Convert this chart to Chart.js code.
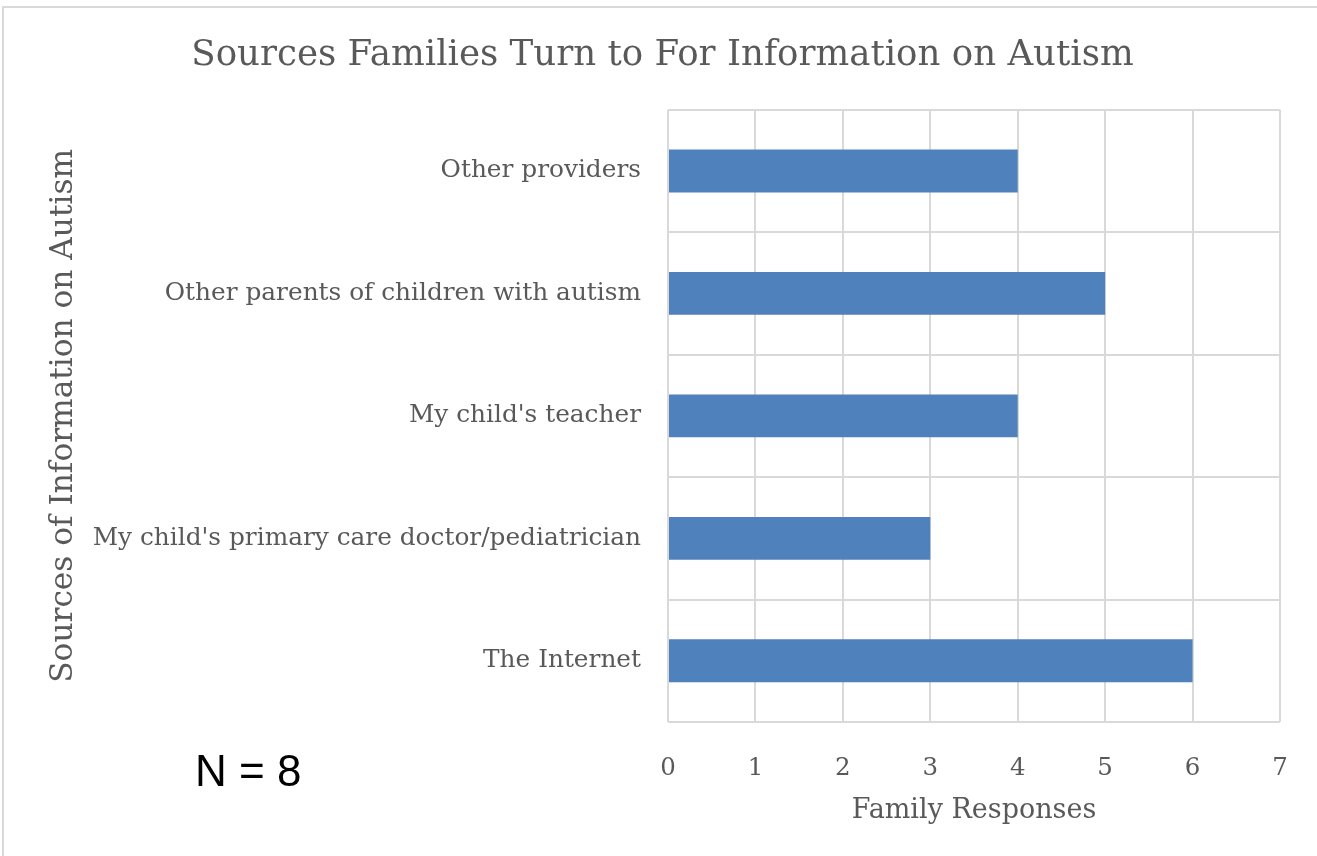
<!DOCTYPE html>
<html>
<head>
<meta charset="utf-8">
<script src="https://cdn.jsdelivr.net/npm/chart.js@4.4.1/dist/chart.umd.min.js"></script>
<style>
  html, body { margin: 0; padding: 0; background: #fff; }
  #wrap { position: relative; width: 1317px; height: 856px; overflow: hidden; }
  #frame { position: absolute; left: 2px; top: 6px; width: 1400px; height: 900px;
           border-top: 2px solid #d9d9d9; border-left: 2px solid #d9d9d9; }
  #note { position: absolute; left: 195px; top: 749px; font-family: "Liberation Sans", Arial, sans-serif;
          font-size: 44px; color: #000; line-height: 1; }
</style>
</head>
<body>
<div id="wrap">
  <div id="frame"></div>
  <canvas id="chart" width="1317" height="856"></canvas>
  <div id="note">N = 8</div>
</div>
<script>
// Chart data
const categories = [
    'Other providers',
    'Other parents of children with autism',
    "My child's teacher",
    "My child's primary care doctor/pediatrician",
    'The Internet'
];
const responses = [4, 5, 4, 3, 6];
const xTicks = [0, 1, 2, 3, 4, 5, 6, 7];

const serif = '"DejaVu Serif", "Liberation Serif", serif';
const grey = '#595959';
const gridGrey = '#d9d9d9';

const ctx = document.getElementById('chart').getContext('2d');
const chart = new Chart(ctx, {
    type: 'bar',
    data: {
        labels: categories,
        datasets: [{
            label: 'Family Responses',
            data: responses,
            backgroundColor: '#4f81bd',
            barPercentage: 0.35,
            categoryPercentage: 1
        }]
    },
    options: {
        indexAxis: 'y',
        responsive: false,
        animation: false,
        layout: { padding: { left: 45, right: 37, top: 0, bottom: 0 } },
        plugins: {
            legend: { display: false },
            tooltip: { enabled: false },
            title: {
                display: true,
                text: 'Sources Families Turn to For Information on Autism',
                color: grey,
                font: { family: serif, size: 35.6, weight: 'normal' },
                padding: { top: 34, bottom: 33 }
            }
        },
        scales: {
            x: {
                min: xTicks[0],
                max: xTicks[xTicks.length - 1],
                afterBuildTicks: scale => { scale.ticks = xTicks.map(v => ({ value: v })); },
                afterFit: scale => {
                    scale.height = 134;
                    scale.paddingLeft = 0;
                    scale.paddingRight = 0;
                },
                grid: { color: gridGrey, lineWidth: 2, drawTicks: false },
                border: { display: false },
                ticks: { color: grey, padding: 32, font: { family: serif, size: 24.5 } },
                title: {
                    display: true,
                    text: 'Family Responses',
                    color: grey,
                    font: { family: serif, size: 27 },
                    padding: { top: 0, bottom: 29 }
                }
            },
            y: {
                afterFit: scale => { scale.width = 623; },
                grid: { color: gridGrey, lineWidth: 2, drawTicks: false, offset: true },
                border: { display: false },
                ticks: { color: grey, padding: 27, font: { family: serif, size: 24.8 } },
                title: {
                    display: true,
                    text: 'Sources of Information on Autism',
                    color: grey,
                    font: { family: serif, size: 31.2 },
                    padding: { top: 0, bottom: 0 }
                }
            }
        }
    }
});
</script>
</body>
</html>
